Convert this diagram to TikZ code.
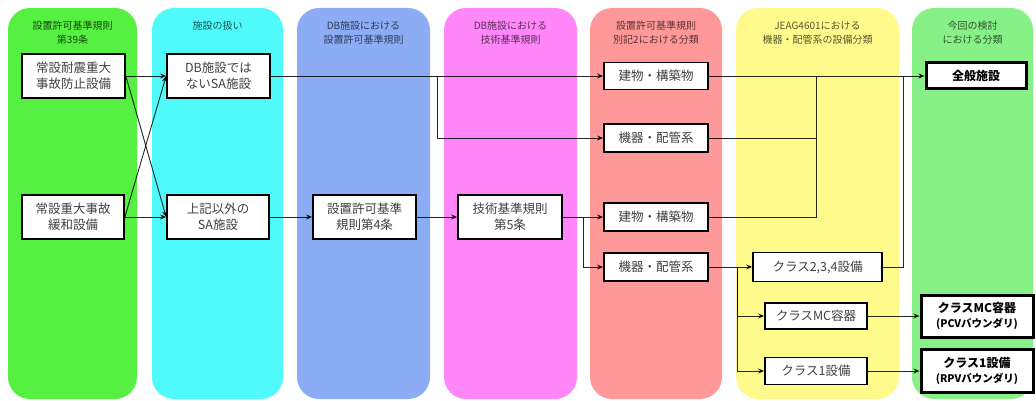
\documentclass[tikz,border=0pt]{standalone}
\usepackage{fontspec}
\setmainfont{Noto Sans CJK JP}
\usetikzlibrary{arrows.meta}
\definecolor{cA}{RGB}{85,240,65}
\definecolor{cB}{RGB}{80,250,250}
\definecolor{cC}{RGB}{140,172,245}
\definecolor{cD}{RGB}{255,135,250}
\definecolor{cE}{RGB}{255,152,152}
\definecolor{cF}{RGB}{255,250,140}
\definecolor{cG}{RGB}{135,240,135}
\tikzset{
  panel/.style={rounded corners=22pt, draw=none},
  hdr/.style={anchor=north, align=center, font=\fontsize{10}{14}\selectfont, inner sep=0pt},
  box/.style={draw=black, line width=1.7pt, fill=white, align=center, inner sep=0pt,
     text=black!75, font=\fontsize{12.5}{16}\selectfont},
  fbox/.style={box, line width=3pt, text=black, font=\fontsize{12}{15}\bfseries\selectfont},
  conn/.style={draw=black, line width=0.9pt, draw opacity=0.85},
  arr/.style={conn, -{Stealth[length=6pt,width=5pt]}},
}
\begin{document}
\begin{tikzpicture}[x=1pt,y=-1pt]
\useasboundingbox (0,0) rectangle (1036,401);
% panels
\fill[panel, cA] (8,8) rectangle (137,399);
\fill[panel, cB] (152,8) rectangle (283,399);
\fill[panel, cC] (297,8) rectangle (430,399);
\fill[panel, cD] (444,8) rectangle (577,399);
\fill[panel, cE] (590,8) rectangle (722,399);
\fill[panel, cF] (736,8) rectangle (899,399);
\fill[panel, cG] (912,8) rectangle (1033,399);
% headers
\node[hdr, text=cA!30!black] (h1) at (72.5,21) {設置許可基準規則\\第39条};
\node[hdr, text=cB!35!black] (h2) at (217.5,21) {施設の扱い};
\node[hdr, text=cC!35!black] (h3) at (363.5,21) {DB施設における\\設置許可基準規則};
\node[hdr, text=cD!35!black] (h4) at (510.5,21) {DB施設における\\技術基準規則};
\node[hdr, text=cE!35!black] (h5) at (656,21) {設置許可基準規則\\別記2における分類};
\node[hdr, text=cF!35!black] (h6) at (817.5,21) {JEAG4601における\\機器・配管系の設備分類};
\node[hdr, text=cG!35!black] (h7) at (972.5,21) {今回の検討\\における分類};
% nodes
\node[box, minimum width=103pt, minimum height=44pt] (a1) at (73.5,76) {常設耐震重大\\事故防止設備};
\node[box, minimum width=102pt, minimum height=44pt] (a2) at (73,217) {常設重大事故\\緩和設備};
\node[box, minimum width=103pt, minimum height=44pt] (b1) at (218.5,76) {DB施設では\\ないSA施設};
\node[box, minimum width=102pt, minimum height=44pt] (b2) at (218,217) {上記以外の\\SA施設};
\node[box, minimum width=103pt, minimum height=44pt] (c) at (364.5,217) {設置許可基準\\規則第4条};
\node[box, minimum width=104pt, minimum height=44pt] (d) at (510,217) {技術基準規則\\第5条};
\node[box, minimum width=104pt, minimum height=27pt] (e1) at (656,76) {建物・構築物};
\node[box, minimum width=104pt, minimum height=28pt] (e2) at (656,138) {機器・配管系};
\node[box, minimum width=104pt, minimum height=28pt] (e3) at (656,217) {建物・構築物};
\node[box, minimum width=104pt, minimum height=28pt] (e4) at (656,267) {機器・配管系};
\node[box, minimum width=129pt, minimum height=29pt] (f1) at (817.5,267) {クラス2,3,4設備};
\node[box, minimum width=102pt, minimum height=26pt] (f2) at (816,316) {クラスMC容器};
\node[box, minimum width=102pt, minimum height=27pt] (f3) at (816,371) {クラス1設備};
\node[fbox, minimum width=100pt, minimum height=26pt] (g1) at (976,76) {全般施設};
\node[fbox, minimum width=112pt, minimum height=42pt] (g2) at (977,316) {クラスMC容器\\{\fontsize{10.5}{12}\selectfont (PCVバウンダリ)}};
\node[fbox, minimum width=112pt, minimum height=43pt] (g3) at (977,371) {クラス1設備\\{\fontsize{10.5}{12}\selectfont (RPVバウンダリ)}};
% junctions
\coordinate (j1) at (437,76);
\coordinate (j2) at (583,217);
\coordinate (j3) at (816,76);
\coordinate (j4) at (903,76);
\coordinate (j5) at (737,267);
% connectors
\draw[arr] (a1.east) -- (b1.west);
\draw[arr] (a2.east) -- (b2.west);
\draw[arr] (a1.east) -- (b2.west);
\draw[arr] (a2.east) -- (b1.west);
\draw[arr] (b1.east) -- (e1.west);
\draw[arr] (j1) |- (e2.west);
\draw[arr] (b2.east) -- (c.west);
\draw[arr] (c.east) -- (d.west);
\draw[arr] (d.east) -- (e3.west);
\draw[arr] (j2) |- (e4.west);
\draw[arr] (e1.east) -- (g1.west);
\draw[conn] (e2.east) -- (e2.east -| j3);
\draw[conn] (e3.east) -| (j3);
\draw[conn] (f1.east) -| (j4);
\draw[arr] (e4.east) -- (f1.west);
\draw[arr] (j5) |- (f2.west);
\draw[arr] (j5) |- (f3.west);
\draw[arr] (f2.east) -- (g2.west);
\draw[arr] (f3.east) -- (g3.west);
\end{tikzpicture}
\end{document}
